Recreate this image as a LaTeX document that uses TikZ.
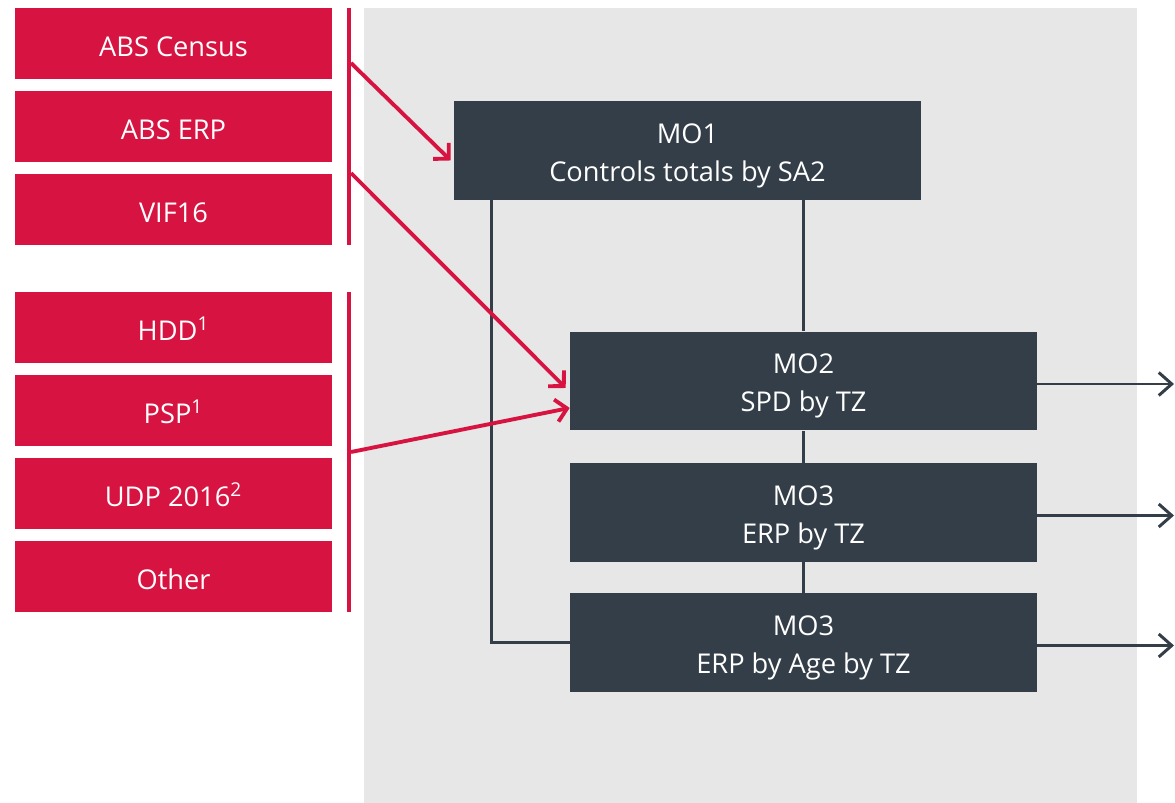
\documentclass[tikz,border=0pt]{standalone}
\usepackage{fontspec}
\setmainfont{Open Sans}
\usetikzlibrary{arrows.meta,calc}
\definecolor{SourceRed}{RGB}{215,20,65}
\definecolor{ModelSlate}{RGB}{51,62,72}
\definecolor{PanelGray}{RGB}{231,231,231}
\tikzset{
  source/.style={fill=SourceRed,text=white,minimum width=6.34cm,
    minimum height=1.42cm,inner sep=0pt,font=\fontsize{15.5}{21.6}\selectfont,
    execute at begin node={\rule{0pt}{14.4pt}}},
  model/.style={fill=ModelSlate,text=white,minimum width=9.34cm,
    minimum height=1.98cm,inner sep=0pt,align=center,
    font=\fontsize{15.5}{21.6}\selectfont,
    execute at begin node={\rule{0pt}{38.5pt}}},
  bar/.style={SourceRed,line width=2.8pt},
  feed/.style={-{Straight Barb[length=0.22cm,width=0.45cm]},
    line width=2.2pt,SourceRed},
  link/.style={line width=1.7pt,ModelSlate},
  output/.style={-{Straight Barb[length=0.26cm,width=0.46cm]},
    line width=1.7pt,ModelSlate}
}
\begin{document}
\begin{tikzpicture}[x=0.02cm,y=-0.02cm]
  \useasboundingbox (0,0) rectangle (1175,803);
  % grey panel behind the model outputs
  \fill[PanelGray] (364,8) rectangle (1137,803);

  % input sources
  \node[source] (census) at (173.5,43.5) {ABS Census};
  \node[source] (erp)    at (173.5,126.5) {ABS ERP};
  \node[source] (vif)    at (173.5,209.5) {VIF16};
  \node[source] (hdd)    at (173.5,327.5) {HDD\textsuperscript{1}};
  \node[source] (psp)    at (173.5,410.5) {PSP\textsuperscript{1}};
  \node[source] (udp)    at (173.5,493.5) {UDP 2016\textsuperscript{2}};
  \node[source] (other)  at (173.5,576.5) {Other};

  % brackets grouping the sources
  \coordinate (barAtop) at (349,8);
  \coordinate (barAbot) at (349,245);
  \coordinate (barBtop) at (349,292);
  \coordinate (barBbot) at (349,612);
  \draw[bar] (barAtop) -- (barAbot);
  \draw[bar] (barBtop) -- (barBbot);
  \coordinate (feedA) at (351,63);
  \coordinate (feedB) at (351,173);
  \coordinate (feedC) at (351,452);

  % model outputs
  \node[model] (mo1)  at (687.5,150.5) {MO1\\Controls totals by SA2};
  \node[model] (mo2)  at (803.5,381)   {MO2\\SPD by TZ};
  \node[model] (mo3)  at (803.5,512.5) {MO3\\ERP by TZ};
  \node[model] (mo3b) at (803.5,642.5) {MO3\\ERP by Age by TZ};

  \draw[link] (mo1.south -| mo2.north) -- (mo2.north);
  \draw[link] (mo2.south) -- (mo3.north);
  \draw[link] (mo3.south) -- (mo3b.north);
  \draw[link] ($(mo1.south west)+(38,0)$) |- (mo3b.west);

  \draw[feed] (feedA) -- ($(mo1.north west)!0.6!(mo1.south west)+(-3,0)$);
  \draw[feed] (feedB) -- ($(mo2.north west)!0.57!(mo2.south west)+(-4,0)$);
  \draw[feed] (feedC) -- ($(mo2.north west)!0.77!(mo2.south west)$);

  \coordinate (outEdge) at (1174,0);
  \draw[output] ([yshift=-0.06cm]mo2.east) -- ([yshift=-0.06cm]mo2.east -| outEdge);
  \draw[output] ([yshift=-0.06cm]mo3.east) -- ([yshift=-0.06cm]mo3.east -| outEdge);
  \draw[output] ([yshift=-0.06cm]mo3b.east) -- ([yshift=-0.06cm]mo3b.east -| outEdge);
\end{tikzpicture}
\end{document}
